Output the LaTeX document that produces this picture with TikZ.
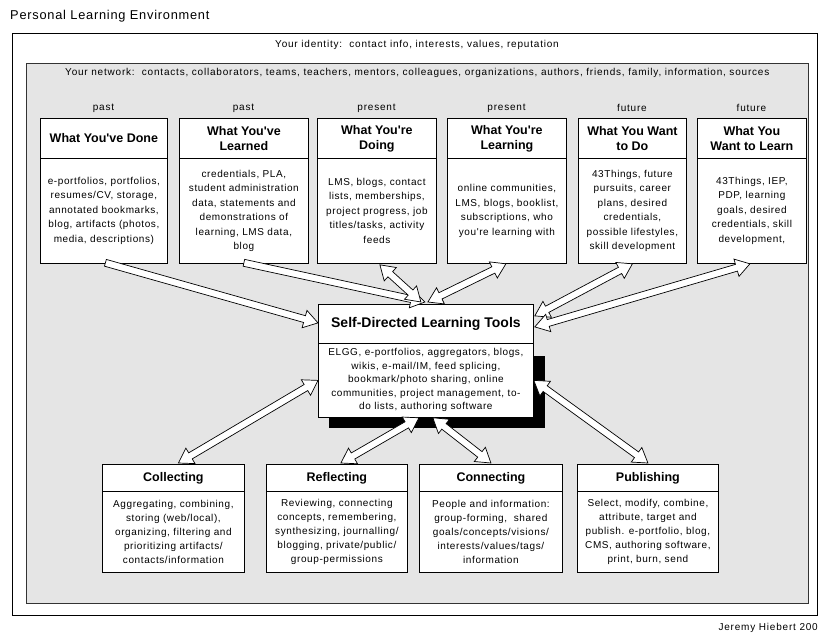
\documentclass[tikz,border=0pt]{standalone}
\usepackage{fontspec}
\setmainfont{Liberation Sans}
\newfontfamily\bodyf[LetterSpace=6]{Liberation Sans}
\newfontfamily\lblf[LetterSpace=8]{Liberation Sans}
\newfontfamily\headf{Liberation Sans}
\usetikzlibrary{calc}
\definecolor{bggray}{RGB}{229,229,229}
\tikzset{
  hdr/.style={draw=black, fill=white, line width=0.8pt, anchor=north west, inner sep=0pt, align=center,
     font=\headf\fontsize{12.5}{15}\selectfont\bfseries},
  body/.style={draw=black, fill=white, line width=0.8pt, anchor=north west, inner sep=0pt, align=center,
     font=\bodyf\fontsize{10}{14.5}\selectfont},
  lbl/.style={inner sep=0pt, font=\lblf\fontsize{10}{12}\selectfont},
  blk/.style={draw=black, fill=white, line width=0.7pt, line join=miter},
}
\newcommand\sarrow[2]{%
  \coordinate (tmpH) at ($(#2)!14pt!(#1)$);
  \draw[blk] ($(#1)!3.5pt!90:(#2)$) -- ($(tmpH)!3.5pt!90:(#2)$) -- ($(tmpH)!9pt!90:(#2)$) -- (#2)
    -- ($(tmpH)!9pt!-90:(#2)$) -- ($(tmpH)!3.5pt!-90:(#2)$) -- ($(#1)!3.5pt!-90:(#2)$) -- cycle;
}
\newcommand\darrow[2]{%
  \coordinate (tmpA) at ($(#1)!14pt!(#2)$);
  \coordinate (tmpB) at ($(#2)!14pt!(#1)$);
  \draw[blk] (#1) -- ($(tmpA)!9pt!90:(#2)$) -- ($(tmpA)!3.5pt!90:(#2)$) -- ($(tmpB)!3.5pt!90:(#2)$)
    -- ($(tmpB)!9pt!90:(#2)$) -- (#2) -- ($(tmpB)!9pt!-90:(#2)$) -- ($(tmpB)!3.5pt!-90:(#2)$)
    -- ($(tmpA)!3.5pt!-90:(#2)$) -- ($(tmpA)!9pt!-90:(#2)$) -- cycle;
}
\begin{document}
\begin{tikzpicture}[x=1pt,y=1pt]
\useasboundingbox[fill=white] (0,0) rectangle (819,-639);
% title
\node[lbl, anchor=west, font=\bodyf\fontsize{12.8}{15}\selectfont] (title) at (10,-16) {Personal Learning Environment};
% outer identity box
\node[draw=black, line width=0.8pt, anchor=north west, minimum width=805pt, minimum height=582pt, inner sep=0pt] (idbox) at (12,-33) {};
\node[lbl, anchor=west] (idtext) at (275,-45) {Your identity:\ \ contact info, interests, values, reputation};
% network box
\node[draw=black!80, fill=bggray, line width=0.8pt, anchor=north west, minimum width=782pt, minimum height=540pt, inner sep=0pt] (netbox) at (26,-63) {};
\node[lbl, anchor=west] (nettext) at (65,-73) {Your network:\ \ contacts, collaborators, teams, teachers, mentors, colleagues, organizations, authors, friends, family, information, sources};
% time labels
\node[lbl] (t1) at (103.5,-108) {past};
\node[lbl] (t2) at (243.5,-108) {past};
\node[lbl] (t3) at (376.5,-108) {present};
\node[lbl] (t4) at (506.5,-108) {present};
\node[lbl] (t5) at (632,-108) {future};
\node[lbl] (t6) at (751.5,-108) {future};
% top boxes
\node[hdr, minimum width=127pt, minimum height=40pt] (h1) at (40,-118) {What You've Done};
\node[body, minimum width=127pt, minimum height=105pt] (b1) at (40,-158) {e-portfolios, portfolios,\\resumes/CV, storage,\\annotated bookmarks,\\blog, artifacts (photos,\\media, descriptions)};
\node[hdr, minimum width=129pt, minimum height=40pt] (h2) at (179,-118) {What You've\\Learned};
\node[body, minimum width=129pt, minimum height=105pt] (b2) at (179,-158) {credentials, PLA,\\student administration\\data, statements and\\demonstrations of\\learning, LMS data,\\blog};
\node[hdr, minimum width=119pt, minimum height=40pt] (h3) at (317,-118) {What You're\\Doing};
\node[body, minimum width=119pt, minimum height=105pt] (b3) at (317,-158) {LMS, blogs, contact\\lists, memberships,\\project progress, job\\titles/tasks, activity\\feeds};
\node[hdr, minimum width=119pt, minimum height=40pt] (h4) at (447,-118) {What You're\\Learning};
\node[body, minimum width=119pt, minimum height=105pt] (b4) at (447,-158) {online communities,\\LMS, blogs, booklist,\\subscriptions, who\\you're learning with};
\node[hdr, minimum width=108pt, minimum height=40pt] (h5) at (578,-118) {What You Want\\to Do};
\node[body, minimum width=108pt, minimum height=105pt] (b5) at (578,-158) {43Things, future\\pursuits, career\\plans, desired\\credentials,\\possible lifestyles,\\skill development};
\node[hdr, minimum width=109pt, minimum height=40pt] (h6) at (697,-118) {What You\\Want to Learn};
\node[body, minimum width=109pt, minimum height=105pt] (b6) at (697,-158) {43Things, IEP,\\PDP, learning\\goals, desired\\credentials, skill\\development,};
% tools box
\node[fill=black, anchor=north west, minimum width=216pt, minimum height=72pt, inner sep=0pt] (shadow) at (329,-356) {};
\node[hdr, minimum width=215pt, minimum height=39pt, font=\headf\fontsize{14}{16}\selectfont\bfseries] (th) at (318,-304) {Self-Directed Learning Tools};
\node[body, minimum width=215pt, minimum height=74pt, font=\bodyf\fontsize{10}{13.5}\selectfont] (tb) at (318,-343) {ELGG, e-portfolios, aggregators, blogs,\\wikis, e-mail/IM, feed splicing,\\bookmark/photo sharing, online\\communities, project management, to-\\do lists, authoring software};
% bottom boxes
\node[hdr, minimum width=142pt, minimum height=27pt] (c1h) at (102,-464) {Collecting};
\node[body, minimum width=142pt, minimum height=81pt, font=\bodyf\fontsize{10}{14}\selectfont] (c1b) at (102,-491) {Aggregating, combining,\\storing (web/local),\\organizing, filtering and\\prioritizing artifacts/\\contacts/information};
\node[hdr, minimum width=141pt, minimum height=27pt] (c2h) at (266,-464) {Reflecting};
\node[body, minimum width=141pt, minimum height=81pt, font=\bodyf\fontsize{10}{14}\selectfont] (c2b) at (266,-491) {Reviewing, connecting\\concepts, remembering,\\synthesizing, journalling/\\blogging, private/public/\\group-permissions};
\node[hdr, minimum width=143pt, minimum height=27pt] (c3h) at (419,-464) {Connecting};
\node[body, minimum width=143pt, minimum height=81pt, font=\bodyf\fontsize{10}{14}\selectfont] (c3b) at (419,-491) {People and information:\\group-forming,\ \ shared\\goals/concepts/visions/\\interests/values/tags/\\information};
\node[hdr, minimum width=141pt, minimum height=27pt] (c4h) at (577,-464) {Publishing};
\node[body, minimum width=141pt, minimum height=81pt, font=\bodyf\fontsize{10}{14}\selectfont] (c4b) at (577,-491) {Select, modify, combine,\\attribute, target and\\publish. e-portfolio, blog,\\CMS, authoring software,\\print, burn, send};
% signature
\node[lbl, anchor=east] (sig) at (818,-628) {Jeremy Hiebert 200};
% arrow end points
\coordinate (p1) at ($(b1.south)+(1.5,1)$);
\coordinate (p2) at ($(b2.south)+(0,1)$);
\coordinate (p3) at ($(b3.south)+(3,-1)$);
\coordinate (p4) at ($(b4.south)+(-1,0)$);
\coordinate (p5) at (b5.south);
\coordinate (p6) at ($(b6.south)+(-2,0)$);
\coordinate (q1) at ($(th.west)+(0,1)$);
\coordinate (q2) at ($(th.north)+(-1,2)$);
\coordinate (q3) at ($(th.north)+(-5,2)$);
\coordinate (q4) at ($(th.north)+(2,2)$);
\coordinate (q5) at ($(th.east)+(1,8)$);
\coordinate (q6) at ($(th.east)+(1,-3)$);
\coordinate (r1) at (tb.west);
\coordinate (r2) at ($(tb.south)+(-7,0)$);
\coordinate (r3) at ($(tb.south)+(7,0)$);
\coordinate (r4) at (tb.east);
\coordinate (s1) at ($(c1h.north)+(5,1)$);
\coordinate (s2) at ($(c2h.north)+(4,1)$);
\coordinate (s3) at ($(c3h.north)+(0,1)$);
\coordinate (s4) at ($(c4h.north)+(0,1)$);
% arrows
\sarrow{p1}{q1}
\sarrow{p2}{q2}
\darrow{p3}{q3}
\darrow{q4}{p4}
\darrow{q5}{p5}
\darrow{q6}{p6}
\darrow{r1}{s1}
\darrow{r2}{s2}
\darrow{r3}{s3}
\darrow{r4}{s4}
\end{tikzpicture}
\end{document}
